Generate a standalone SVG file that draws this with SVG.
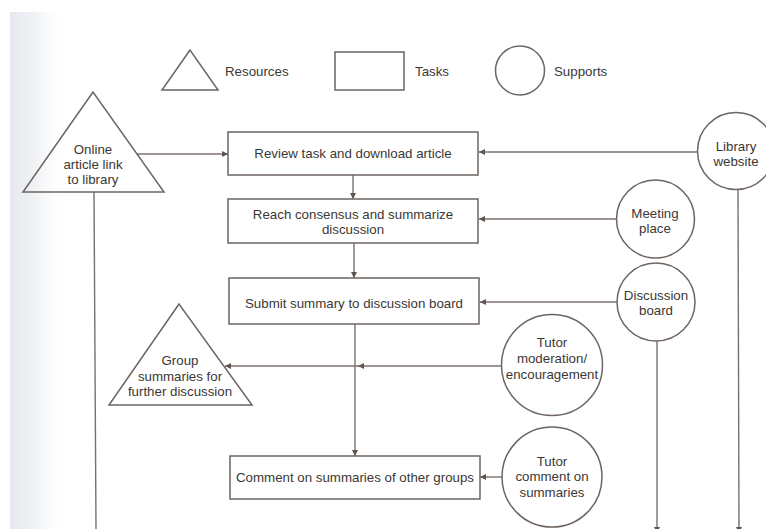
<svg xmlns="http://www.w3.org/2000/svg" width="766" height="529" viewBox="0 0 766 529">
  <defs>
    <linearGradient id="pageEdge" x1="0" y1="0" x2="1" y2="0">
      <stop offset="0" stop-color="#e5e9ee"/>
      <stop offset="0.5" stop-color="#f1f3f6"/>
      <stop offset="1" stop-color="#ffffff" stop-opacity="0"/>
    </linearGradient>
    <marker id="arrow" viewBox="0 0 10 10" refX="10" refY="5" markerWidth="7" markerHeight="6" markerUnits="userSpaceOnUse" orient="auto">
      <path d="M0,0 L10,5 L0,10 z" fill="#5e5551"/>
    </marker>
  </defs>
  <style>
    .shape { fill: none; stroke: #6e6560; stroke-width: 1.5; }
    .link { fill: none; stroke: #7a716c; stroke-width: 1.4; }
    .arrow { marker-end: url(#arrow); }
    text { font-family: "Liberation Sans", Arial, sans-serif; font-size: 13.3px; fill: #3b3735; text-anchor: middle; }
    .legend { text-anchor: start; }
  </style>

  <!-- paper -->
  <rect x="0" y="0" width="766" height="529" fill="#ffffff"/>
  <rect x="10" y="12" width="55" height="517" fill="url(#pageEdge)"/>

  <!-- legend -->
  <g id="legend">
    <polygon class="shape" points="190,50 162,90 218,90"/>
    <text class="legend" x="225" y="76">Resources</text>
    <rect class="shape" x="335" y="52" width="69" height="38"/>
    <text class="legend" x="415" y="76">Tasks</text>
    <circle class="shape" cx="520" cy="70.5" r="24.5"/>
    <text class="legend" x="554" y="76">Supports</text>
  </g>

  <!-- connectors -->
  <g id="connectors">
    <line class="link arrow" x1="137" y1="154" x2="228" y2="154"/>
    <line class="link arrow" x1="697" y1="152" x2="479" y2="152"/>
    <line class="link arrow" x1="353" y1="175" x2="353" y2="199"/>
    <line class="link arrow" x1="616" y1="219" x2="479" y2="219"/>
    <line class="link arrow" x1="354" y1="243" x2="354" y2="278"/>
    <line class="link arrow" x1="617" y1="302" x2="480" y2="302"/>
    <line class="link arrow" x1="355" y1="324" x2="355" y2="456"/>
    <path class="link" d="M501,366 L358,366 L225,366" marker-mid="url(#arrow)" marker-end="url(#arrow)"/>
    <line class="link arrow" x1="502" y1="477" x2="480" y2="477"/>
    <line class="link" x1="94" y1="192" x2="96" y2="529"/>
    <line class="link arrow" x1="657" y1="341" x2="657" y2="533"/>
    <line class="link arrow" x1="738" y1="189" x2="739" y2="533"/>
  </g>

  <!-- resources -->
  <g id="online-article">
    <polygon class="shape" points="93,92 23,192 164,192"/>
    <text x="93" y="153.5">Online</text>
    <text x="93" y="168.5">article link</text>
    <text x="93" y="183.5">to library</text>
  </g>
  <g id="group-summaries">
    <polygon class="shape" points="179,304 109,405 252,405"/>
    <text x="180" y="365">Group</text>
    <text x="180" y="381">summaries for</text>
    <text x="180" y="396">further discussion</text>
  </g>

  <!-- tasks -->
  <g id="review-task">
    <rect class="shape" x="228" y="132" width="250" height="43"/>
    <text x="353" y="157.5">Review task and download article</text>
  </g>
  <g id="reach-consensus">
    <rect class="shape" x="228" y="199" width="250" height="44"/>
    <text x="353" y="218.5">Reach consensus and summarize</text>
    <text x="353" y="233.5">discussion</text>
  </g>
  <g id="submit-summary">
    <rect class="shape" x="229" y="278" width="250" height="46"/>
    <text x="354" y="307.5">Submit summary to discussion board</text>
  </g>
  <g id="comment-summaries">
    <rect class="shape" x="230" y="456" width="250" height="43"/>
    <text x="355" y="481.5">Comment on summaries of other groups</text>
  </g>

  <!-- supports -->
  <g id="library-website">
    <circle class="shape" cx="736" cy="151" r="38.5"/>
    <text x="736" y="150.5">Library</text>
    <text x="736" y="165.5">website</text>
  </g>
  <g id="meeting-place">
    <circle class="shape" cx="655.5" cy="219" r="39"/>
    <text x="655" y="217.5">Meeting</text>
    <text x="655" y="233">place</text>
  </g>
  <g id="discussion-board">
    <circle class="shape" cx="656" cy="302" r="39"/>
    <text x="656" y="299.5">Discussion</text>
    <text x="656" y="315">board</text>
  </g>
  <g id="tutor-moderation">
    <circle class="shape" cx="552" cy="365" r="50.5"/>
    <text x="552" y="347">Tutor</text>
    <text x="552" y="363">moderation/</text>
    <text x="552" y="378.5">encouragement</text>
  </g>
  <g id="tutor-comment">
    <circle class="shape" cx="552" cy="477" r="50"/>
    <text x="552" y="465.5">Tutor</text>
    <text x="552" y="481">comment on</text>
    <text x="552" y="496.5">summaries</text>
  </g>
</svg>
